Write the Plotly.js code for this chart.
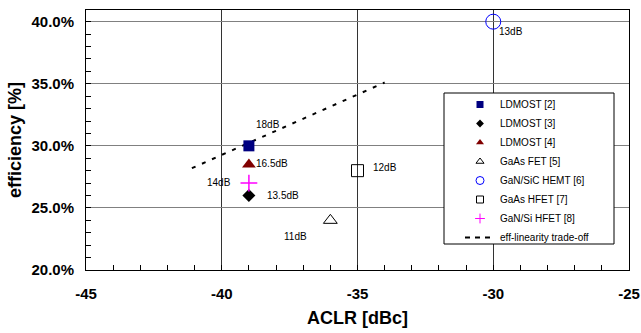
<!DOCTYPE html>
<html><head><meta charset="utf-8">
<script src="https://cdn.plot.ly/plotly-3.0.1.min.js"></script>
<style>html,body{margin:0;padding:0;background:#fff}#chart{width:641px;height:333px}</style>
</head><body><div id="chart"></div>
<script>
// Data
const seriesNames = ["LDMOST [2]","LDMOST [3]","LDMOST [4]","GaAs FET [5]","GaN/SiC HEMT [6]","GaAs HFET [7]","GaN/Si HFET [8]"];
const aclr = [-39, -39, -39, -36, -30, -35, -39];
const efficiency = [30, 26, 28.5, 24, 40, 28, 27];
const gainLabels = ["18dB","13.5dB","16.5dB","11dB","13dB","12dB","14dB"];
const tradeoffName = "eff-linearity trade-off";
const tradeoffX = [-41.1, -34.0];
const tradeoffY = [28.2, 35.1];
const xTicks = [-45, -40, -35, -30, -25];
const yTicks = [20, 25, 30, 35, 40];

// Styles
const FONT = 'Liberation Sans, Arial, sans-serif';
const styles = [
  {symbol:'square', color:'#000080', size:11, lsize:7},
  {symbol:'diamond', color:'#000000', size:10, lsize:6},
  {symbol:'triangle-up', color:'#800000', size:12, lsize:7},
  {symbol:'triangle-up-open', color:'#000000', size:12, lsize:7},
  {symbol:'circle-open', color:'#0000ff', size:15, lsize:8},
  {symbol:'square-open', color:'#000000', size:12, lsize:7},
  {symbol:'cross-thin-open', color:'#ff00ff', size:12, lsize:7}
];
const labelOffsets = [
  {xs:5, ys:21, xa:'left'},
  {xs:16, ys:0, xa:'left'},
  {xs:5, ys:1, xa:'left'},
  {xs:-21, ys:-16, xa:'right'},
  {xs:4, ys:-10, xa:'left'},
  {xs:13, ys:3, xa:'left'},
  {xs:-16, ys:1, xa:'right'}
];

const traces = [];
traces.push({x:tradeoffX, y:tradeoffY, mode:'lines', name:tradeoffName, showlegend:false,
  line:{color:'#000', width:2, dash:'4px,7px'}, hoverinfo:'skip'});
for (let i=0;i<seriesNames.length;i++){
  const s = styles[i];
  const open = s.symbol.indexOf('open')>=0;
  traces.push({x:[aclr[i]], y:[efficiency[i]], mode:'markers', name:seriesNames[i], showlegend:false,
    marker:{symbol:s.symbol, color:s.color, size:s.size, line:{color:s.color, width: open ? (s.symbol.indexOf('cross')>=0?1.5:1) : 0}}});
}
for (let i=0;i<seriesNames.length;i++){
  const s = styles[i];
  const open = s.symbol.indexOf('open')>=0;
  traces.push({x:[null], y:[null], mode:'markers', name:seriesNames[i], showlegend:true,
    marker:{symbol:s.symbol, color:s.color, size:s.lsize, line:{color:s.color, width: open ? 1 : 0}}});
}
traces.push({x:[null], y:[null], mode:'lines', name:tradeoffName, showlegend:true,
  line:{color:'#000', width:2, dash:'5px,5px'}});

const annotations = gainLabels.map((t,i)=>({
  x:aclr[i], y:efficiency[i], xref:'x', yref:'y', text:t, showarrow:false,
  xanchor:labelOffsets[i].xa, yanchor:'middle', xshift:labelOffsets[i].xs, yshift:labelOffsets[i].ys,
  font:{family:FONT, size:10, color:'#000'}
}));

// legend frame (px -> paper)
const L = 86, R = 629, T = 10, B = 270;
const px2x = p => (p - L) / (R - L);
const px2y = p => (B - p) / (B - T);

const layout = {
  width:641, height:333,
  margin:{l:L, r:641-R, t:T, b:333-B},
  paper_bgcolor:'#fff', plot_bgcolor:'#fff',
  font:{family:FONT, color:'#000'},
  showlegend:true,
  legend:{x:px2x(460), y:px2y(90), xanchor:'left', yanchor:'top', bgcolor:'rgba(0,0,0,0)', borderwidth:0,
    font:{size:10, family:FONT}, tracegroupgap:0},
  shapes:[{type:'rect', xref:'paper', yref:'paper', x0:px2x(444), x1:px2x(614), y0:px2y(244), y1:px2y(93),
    line:{color:'#000', width:1}, fillcolor:'#fff', layer:'above'}],
  xaxis:{range:[-45,-25], tickvals:xTicks, ticktext:xTicks.map(String),
    showgrid:true, gridcolor:'#333', gridwidth:1, zeroline:false,
    showline:true, linecolor:'#000', linewidth:1, mirror:true,
    ticks:'inside', ticklen:5, tickcolor:'#000', ticklabelstandoff:10,
    minor:{dtick:1, ticks:'inside', ticklen:5, tickcolor:'#000', showgrid:false},
    tickfont:{size:15, family:FONT, weight:'bold'},
    title:{text:'<b>ACLR [dBc]</b>', font:{size:18}, standoff:10}},
  yaxis:{range:[20,40.94], tickvals:yTicks, ticktext:yTicks.map(v=>v.toFixed(1)+'%'),
    showgrid:true, gridcolor:'#808080', gridwidth:1, zeroline:false,
    showline:true, linecolor:'#000', linewidth:1, mirror:true,
    ticks:'inside', ticklen:5, tickcolor:'#000', ticklabelstandoff:8,
    minor:{dtick:1, ticks:'inside', ticklen:5, tickcolor:'#000', showgrid:false},
    tickfont:{size:15, family:FONT, weight:'bold'},
    title:{text:'<b>efficiency [%]</b>', font:{size:18}, standoff:5}},
  annotations:annotations
};
Plotly.newPlot('chart', traces, layout, {displayModeBar:false, staticPlot:true});
</script></body></html>
